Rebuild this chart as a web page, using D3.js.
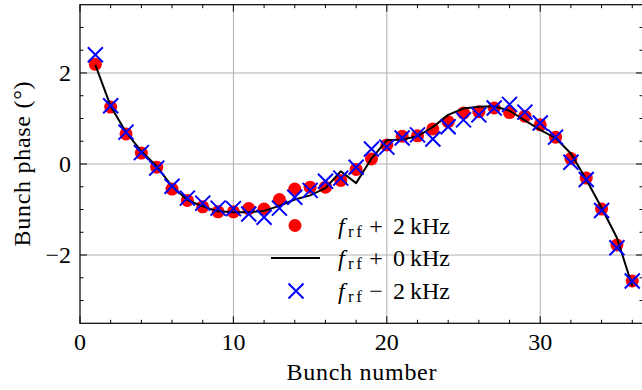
<!DOCTYPE html>
<html>
<head>
<meta charset="utf-8">
<script src="https://cdn.jsdelivr.net/npm/d3@7"></script>
<style>
  html, body { margin: 0; padding: 0; background: #fff; }
  svg { display: block; }
</style>
</head>
<body>
<svg id="chart" width="642" height="390"></svg>
<script>
// Bunch phase per bunch for three RF frequency offsets
const bunches = d3.range(1, 37);
const phasePlus2 = [2.19, 1.25, 0.66, 0.24, -0.07, -0.55, -0.80, -0.94, -1.05, -1.05,
  -0.98, -0.99, -0.78, -0.55, -0.51, -0.51, -0.36, -0.12, 0.11, 0.42,
  0.61, 0.62, 0.77, 0.93, 1.12, 1.15, 1.23, 1.13, 1.05, 0.86,
  0.59, 0.12, -0.31, -0.99, -1.78, -2.57];
const phaseZero = [2.18, 1.27, 0.70, 0.28, -0.05, -0.49, -0.79, -0.93, -1.04, -1.06,
  -1.06, -1.03, -0.92, -0.78, -0.69, -0.53, -0.16, -0.42, 0.12, 0.52,
  0.54, 0.61, 0.81, 1.08, 1.22, 1.26, 1.27, 1.17, 0.96, 0.75,
  0.57, 0.23, -0.34, -0.96, -1.62, -2.68];
const phaseMinus2 = [2.40, 1.28, 0.70, 0.25, -0.09, -0.49, -0.75, -0.86, -0.97, -0.98,
  -1.10, -1.17, -0.97, -0.73, -0.58, -0.38, -0.31, -0.07, 0.33, 0.37,
  0.57, 0.64, 0.55, 0.82, 0.97, 1.08, 1.23, 1.31, 1.14, 0.90,
  0.59, 0.04, -0.34, -1.02, -1.84, -2.57];
const xMajorTicks = [0, 10, 20, 30];
const yMajorTicks = [-2, 0, 2];
const legendSigns = ["+", "+", "\u2212"];
const legendValues = ["2", "0", "2"];

const FONT = "'Liberation Serif', 'DejaVu Serif', serif";
const svg = d3.select("#chart");
const pL = 80, pR = 643, pT = 4.7, pB = 323.3;

const x = d3.scaleLinear().domain([0, 36.7]).range([pL, pR]);
const y = d3.scaleLinear().domain([-3.5, 3.5]).range([pB, pT]);

// grid
const grid = svg.append("g").attr("stroke", "#b0b0b0").attr("stroke-width", 1);
xMajorTicks.filter(d => d > 0).forEach(d => {
  grid.append("line").attr("x1", x(d)).attr("x2", x(d)).attr("y1", pT).attr("y2", pB);
});
yMajorTicks.forEach(d => {
  grid.append("line").attr("x1", pL).attr("x2", pR).attr("y1", y(d)).attr("y2", y(d));
});

// data
const plot = svg.append("g");
plot.selectAll("circle.plus").data(bunches).enter().append("circle")
  .attr("cx", (d) => x(d)).attr("cy", (d, i) => y(phasePlus2[i]))
  .attr("r", 6.5).attr("fill", "#ff0000");

const line = d3.line().x(d => x(d[0])).y(d => y(d[1]));
plot.append("path")
  .datum(bunches.map((b, i) => [b, phaseZero[i]]))
  .attr("d", line).attr("fill", "none").attr("stroke", "#000")
  .attr("stroke-width", 2).attr("stroke-linejoin", "round");

const cross = (g, cx, cy, s) => {
  g.append("path")
    .attr("d", `M${cx - s},${cy - s}L${cx + s},${cy + s}M${cx - s},${cy + s}L${cx + s},${cy - s}`)
    .attr("stroke", "#0000ff").attr("stroke-width", 2).attr("fill", "none");
};
bunches.forEach((b, i) => cross(plot, x(b), y(phaseMinus2[i]), 7.5));

// axes: inward ticks on all sides
const axisG = svg.append("g").attr("stroke", "#000");
const xMinor = d3.range(0, 37, 2).filter(d => d % 10 !== 0);
const yMinor = d3.range(-3.5, 3.51, 0.5).filter(d => !yMajorTicks.includes(d) && Math.abs(d) < 3.5);
const tick = (x1, y1, x2, y2) => axisG.append("line")
  .attr("x1", x1).attr("y1", y1).attr("x2", x2).attr("y2", y2).attr("stroke-width", 1);
xMajorTicks.forEach(d => { tick(x(d), pB, x(d), pB - 7); tick(x(d), pT, x(d), pT + 7); });
xMinor.forEach(d => { tick(x(d), pB, x(d), pB - 3.5); tick(x(d), pT, x(d), pT + 3.5); });
yMajorTicks.forEach(d => { tick(pL, y(d), pL + 7, y(d)); tick(pR, y(d), pR - 7, y(d)); });
yMinor.forEach(d => { tick(pL, y(d), pL + 3.5, y(d)); tick(pR, y(d), pR - 3.5, y(d)); });
axisG.append("rect").attr("x", pL).attr("y", pT).attr("width", pR - pL).attr("height", pB - pT)
  .attr("fill", "none").attr("stroke-width", 1.2);

// tick labels
const fs = 24;
const txt = (g) => g.append("text").attr("font-family", FONT).attr("font-size", fs).attr("fill", "#000");
xMajorTicks.forEach(d => {
  txt(svg).attr("x", x(d)).attr("y", pB + 27).attr("text-anchor", "middle").text(d);
});
yMajorTicks.forEach(d => {
  txt(svg).attr("x", pL - 9).attr("y", y(d) + 8).attr("text-anchor", "end")
    .text(d < 0 ? "\u2212" + Math.abs(d) : d);
});

// axis titles
txt(svg).attr("x", (pL + pR) / 2).attr("y", 380).attr("text-anchor", "middle")
  .attr("textLength", 150).attr("lengthAdjust", "spacing").text("Bunch number");
txt(svg).attr("transform", `translate(30,${(pT + pB) / 2}) rotate(-90)`)
  .attr("text-anchor", "middle")
  .attr("textLength", 165).attr("lengthAdjust", "spacing").text("Bunch phase (\u00b0)");

// legend
const legRows = [225.5, 258, 291];
const lg = svg.append("g");
lg.append("circle").attr("cx", 295).attr("cy", legRows[0]).attr("r", 6.5).attr("fill", "#ff0000");
lg.append("line").attr("x1", 271).attr("x2", 320).attr("y1", legRows[1]).attr("y2", legRows[1])
  .attr("stroke", "#000").attr("stroke-width", 2);
cross(lg, 296, legRows[2], 7.5);
legendSigns.forEach((s, i) => {
  const by = legRows[i] + 8;
  txt(lg).attr("x", 338).attr("y", by).attr("font-style", "italic").text("f");
  txt(lg).attr("x", 348).attr("y", by + 3).attr("font-size", 17)
    .attr("textLength", 14).attr("lengthAdjust", "spacing").text("rf");
  txt(lg).attr("x", 376).attr("y", by).attr("text-anchor", "middle").text(s);
  txt(lg).attr("x", 393).attr("y", by).text(legendValues[i]);
  txt(lg).attr("x", 410).attr("y", by).attr("textLength", 40).attr("lengthAdjust", "spacing").text("kHz");
});
</script>
</body>
</html>
